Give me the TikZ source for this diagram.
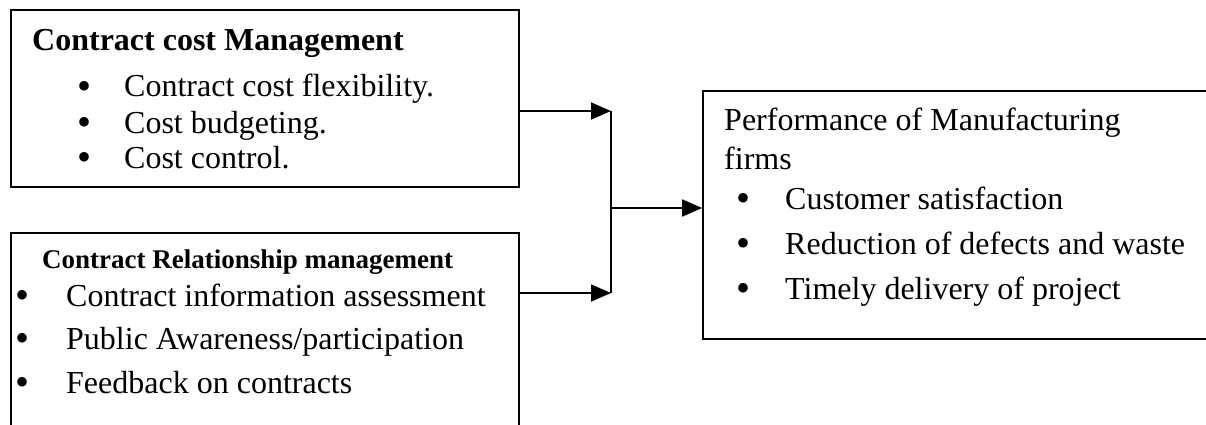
\documentclass[tikz,border=0pt]{standalone}
\usepackage{fontspec}
\setmainfont{Liberation Serif}
\usetikzlibrary{arrows.meta}
\tikzset{
  box/.style={draw, line width=1.6pt, inner sep=0pt, rectangle},
  txt/.style={anchor=base west, inner sep=0pt, font=\fontsize{32}{38}\selectfont},
  ttl/.style={txt, font=\fontsize{32}{38}\selectfont\bfseries},
  sttl/.style={txt, font=\fontsize{27}{32}\selectfont\bfseries},
  conn/.style={line width=1.6pt},
  arr/.style={conn, -{Triangle[length=20pt,width=17pt]}},
}
% bullet item: 40pt-wide slot with a centred bullet, then a gap, then the text
\newcommand{\bitem}[2]{\makebox[40pt][c]{\smash{\fontsize{40}{40}\selectfont\raisebox{-2.5pt}{•}}}\hspace{#1}#2}
\begin{document}
\begin{tikzpicture}[x=1pt,y=-1pt]
\useasboundingbox (0,0) rectangle (1206,425);
\clip (0,0) rectangle (1206,425);
% boxes
\node[box, minimum width=508pt, minimum height=177pt] (ccm) at (265,98.5) {};
\node[box, minimum width=508pt, minimum height=212pt] (crm) at (265,339) {};
\node[box, minimum width=517pt, minimum height=248pt] (perf) at (961.5,215) {};
% top box text
\node[ttl] (t1) at (32,51) {Contract cost Management};
\node[txt] (l11) at (64,97) {\bitem{20pt}{Contract cost flexibility.}};
\node[txt] (l12) at (64,133) {\bitem{20pt}{Cost budgeting.}};
\node[txt] (l13) at (64,168) {\bitem{20pt}{Cost control.}};
% bottom box text
\node[sttl] (t2) at (42,268) {Contract Relationship management};
\node[txt] (l21) at (2,306) {\bitem{24pt}{Contract information assessment}};
\node[txt] (l22) at (2,349) {\bitem{24pt}{Public Awareness/participation}};
\node[txt] (l23) at (2,393) {\bitem{24pt}{Feedback on contracts}};
% right box text
\node[txt] (t3) at (724,131) {Performance of Manufacturing};
\node[txt] (t3b) at (724,169) {firms};
\node[txt] (l31) at (723,209) {\bitem{22pt}{Customer satisfaction}};
\node[txt] (l32) at (723,254) {\bitem{22pt}{Reduction of defects and waste}};
\node[txt] (l33) at (723,299) {\bitem{22pt}{Timely delivery of project}};
% connectors
\coordinate (j1) at (611,111);
\coordinate (j2) at (611,293);
\coordinate (jm) at (611,208);
\draw[arr] (ccm.east |- j1) -- (j1);
\draw[arr] (crm.east |- j2) -- (j2);
\draw[conn] (j1) -- (j2);
\draw[arr] (jm) -- (perf.west |- jm);
\end{tikzpicture}
\end{document}
